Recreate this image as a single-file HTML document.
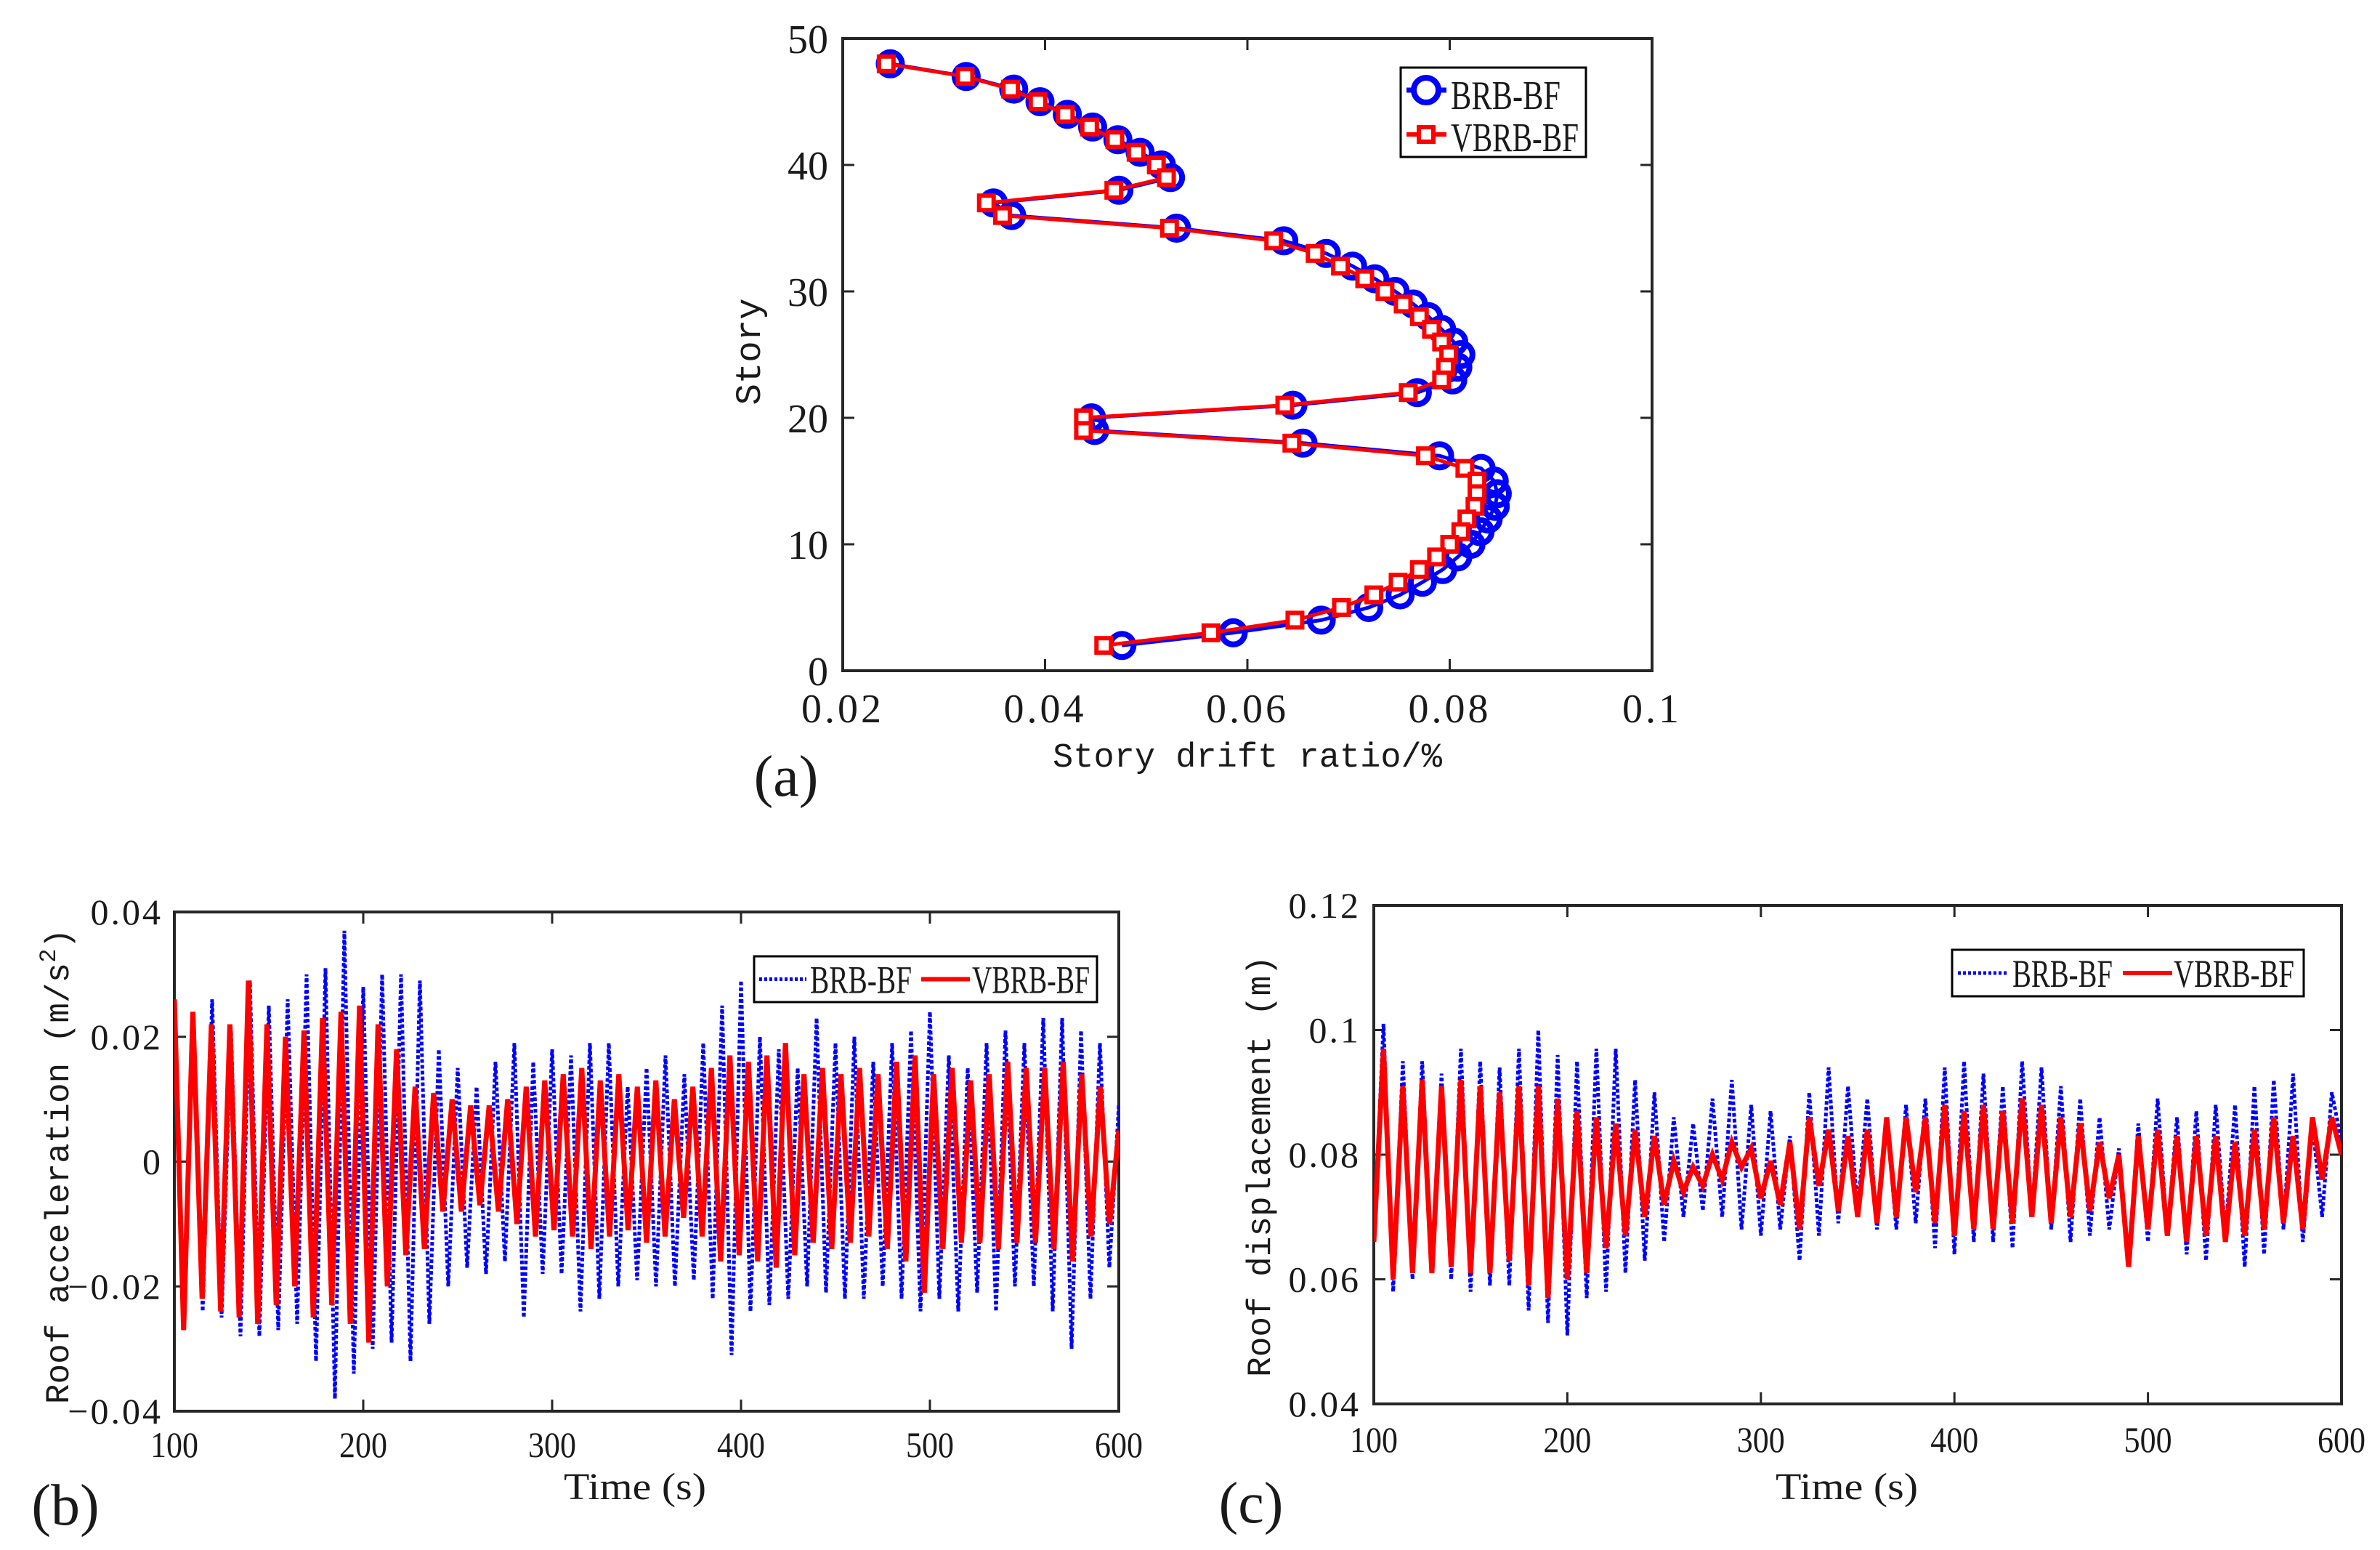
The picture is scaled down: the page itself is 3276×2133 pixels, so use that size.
<!DOCTYPE html>
<html><head><meta charset="utf-8">
<style>
html,body{margin:0;padding:0;background:#fff;}
svg{display:block;}
text{font-family:"Liberation Serif","Noto Serif CJK SC",serif;fill:#1a1a1a;}
.mono{font-family:"Liberation Mono",monospace;}
</style></head>
<body>
<svg id="fig" width="3276" height="2133" viewBox="0 0 3276 2133" xmlns="http://www.w3.org/2000/svg">
<rect width="3276" height="2133" fill="#fff"/>
<g id="pa"></g>
<g id="pb"></g>
<g id="pc"></g>
</svg>
<script>
// ---- Chart (a) data ----
const stories = [48,47,46,45,44,43,42,41,40,39,38,37,36,35,34,33,32,31,30,29,28,27,26,25,24,23,22,21,20,19,18,17,16,15,14,13,12,11,10,9,8,7,6,5,4,3,2];
const driftBRB = [0.0247,0.0322,0.0369,0.0395,0.0422,0.0447,0.0472,0.0494,0.0515,0.0524,0.0473,0.0349,0.0367,0.0530,0.0636,0.0678,0.0704,0.0726,0.0746,0.0764,0.0779,0.0792,0.0804,0.0811,0.0808,0.0803,0.0768,0.0645,0.0446,0.0449,0.0655,0.0790,0.0831,0.0844,0.0847,0.0845,0.0838,0.0830,0.0821,0.0808,0.0793,0.0773,0.0751,0.0720,0.0673,0.0586,0.0476];
const driftVBRB = [0.0243,0.0321,0.0366,0.0393,0.0420,0.0444,0.0469,0.0490,0.0510,0.0520,0.0468,0.0342,0.0358,0.0523,0.0626,0.0667,0.0692,0.0716,0.0736,0.0754,0.0770,0.0782,0.0792,0.0799,0.0796,0.0792,0.0759,0.0637,0.0438,0.0438,0.0644,0.0776,0.0815,0.0827,0.0827,0.0825,0.0817,0.0811,0.0800,0.0787,0.0770,0.0749,0.0725,0.0693,0.0647,0.0564,0.0458];
const aXTicks = [0.02,0.04,0.06,0.08,0.1];
const aXTickLabels = ["0.02","0.04","0.06","0.08","0.1"];
const aYTicks = [0,10,20,30,40,50];
const aYTickLabels = ["0","10","20","30","40","50"];
// ---- Chart (b) data: alternating extrema, t = 100..600 ----
const accBRB = [0.022,-0.027,0.023,-0.024,0.026,-0.025,0.021,-0.028,0.029,-0.028,0.025,-0.027,0.026,-0.026,0.030,-0.032,0.031,-0.038,0.037,-0.034,0.028,-0.030,0.030,-0.029,0.030,-0.032,0.029,-0.026,0.018,-0.020,0.015,-0.017,0.012,-0.018,0.016,-0.016,0.019,-0.025,0.016,-0.018,0.018,-0.018,0.017,-0.024,0.019,-0.022,0.019,-0.020,0.012,-0.019,0.015,-0.020,0.017,-0.020,0.014,-0.019,0.019,-0.022,0.025,-0.031,0.029,-0.024,0.020,-0.023,0.018,-0.022,0.015,-0.020,0.023,-0.021,0.019,-0.022,0.020,-0.022,0.016,-0.020,0.019,-0.022,0.021,-0.024,0.024,-0.022,0.017,-0.024,0.015,-0.021,0.019,-0.024,0.021,-0.020,0.019,-0.020,0.023,-0.024,0.023,-0.030,0.021,-0.022,0.019,-0.017,0.009];
const accVBRB = [0.026,-0.027,0.024,-0.022,0.022,-0.024,0.022,-0.025,0.029,-0.026,0.022,-0.023,0.020,-0.020,0.021,-0.025,0.023,-0.023,0.024,-0.026,0.025,-0.029,0.022,-0.020,0.018,-0.015,0.012,-0.014,0.011,-0.008,0.010,-0.008,0.009,-0.007,0.009,-0.008,0.010,-0.010,0.012,-0.012,0.013,-0.011,0.014,-0.012,0.015,-0.014,0.013,-0.012,0.014,-0.011,0.012,-0.013,0.013,-0.012,0.010,-0.009,0.012,-0.012,0.015,-0.016,0.017,-0.015,0.016,-0.016,0.017,-0.017,0.019,-0.015,0.014,-0.013,0.015,-0.014,0.014,-0.013,0.015,-0.012,0.014,-0.014,0.016,-0.016,0.017,-0.021,0.014,-0.014,0.015,-0.013,0.013,-0.013,0.014,-0.014,0.016,-0.013,0.015,-0.013,0.015,-0.014,0.016,-0.016,0.014,-0.012,0.012,-0.010,0.005];
const bYTicks = [-0.04,-0.02,0,0.02,0.04];
const bYTickLabels = ["\u22120.04","\u22120.02","0","0.02","0.04"];
const timeTicks = [100,200,300,400,500,600];
const timeTickLabels = ["100","200","300","400","500","600"];
// ---- Chart (c) data ----
const dispBRB = [0.066,0.101,0.058,0.095,0.060,0.095,0.061,0.093,0.060,0.097,0.058,0.095,0.059,0.094,0.059,0.097,0.055,0.100,0.053,0.096,0.051,0.095,0.057,0.097,0.058,0.097,0.061,0.092,0.063,0.090,0.066,0.086,0.070,0.085,0.071,0.089,0.070,0.092,0.068,0.088,0.067,0.087,0.068,0.083,0.063,0.090,0.067,0.094,0.069,0.091,0.071,0.089,0.068,0.086,0.068,0.088,0.069,0.089,0.065,0.094,0.064,0.095,0.066,0.093,0.066,0.091,0.065,0.095,0.070,0.094,0.068,0.091,0.066,0.089,0.067,0.086,0.068,0.081,0.062,0.085,0.066,0.089,0.067,0.086,0.064,0.087,0.063,0.088,0.067,0.088,0.062,0.091,0.064,0.092,0.068,0.093,0.066,0.085,0.070,0.090,0.082];
const dispVBRB = [0.066,0.097,0.060,0.091,0.061,0.092,0.061,0.091,0.062,0.092,0.061,0.091,0.061,0.090,0.063,0.091,0.059,0.091,0.057,0.089,0.060,0.087,0.061,0.086,0.065,0.085,0.067,0.084,0.070,0.083,0.072,0.079,0.074,0.078,0.075,0.080,0.076,0.082,0.078,0.081,0.073,0.079,0.072,0.082,0.068,0.086,0.075,0.084,0.071,0.083,0.070,0.084,0.069,0.086,0.070,0.086,0.074,0.086,0.069,0.088,0.067,0.087,0.068,0.088,0.068,0.087,0.069,0.089,0.070,0.088,0.069,0.086,0.070,0.085,0.071,0.082,0.073,0.080,0.062,0.083,0.068,0.084,0.067,0.083,0.066,0.083,0.067,0.083,0.066,0.082,0.067,0.084,0.068,0.086,0.069,0.083,0.068,0.086,0.076,0.086,0.080];
const cYTicks = [0.04,0.06,0.08,0.1,0.12];
const cYTickLabels = ["0.04","0.06","0.08","0.1","0.12"];

const NS = "http://www.w3.org/2000/svg";
function mk(parent, tag, attrs){
  const e = document.createElementNS(NS, tag);
  for (const k in attrs) e.setAttribute(k, attrs[k]);
  parent.appendChild(e);
  return e;
}
function txt(parent, str, x, y, size, anchor, name, extra){
  const t = mk(parent, 'text', Object.assign({x:x, y:y, 'font-size':size, 'text-anchor':anchor||'start'}, extra||{}));
  t.textContent = str;
  
  
  return t;
}
function linScale(d0,d1,r0,r1){ return v => r0 + (v-d0)/(d1-d0)*(r1-r0); }

function frame(g, L, T, R, B, xs, ys, xt, yt, name){
  const fr = mk(g,'rect',{x:L,y:T,width:R-L,height:B-T,fill:'none',stroke:'#262626','stroke-width':4});
  
  
  xt.forEach(v=>{ const x=xs(v);
    mk(g,'line',{x1:x,y1:B,x2:x,y2:B-16,stroke:'#262626','stroke-width':3});
    mk(g,'line',{x1:x,y1:T,x2:x,y2:T+16,stroke:'#262626','stroke-width':3}); });
  yt.forEach(v=>{ const y=ys(v);
    mk(g,'line',{x1:L,y1:y,x2:L+16,y2:y,stroke:'#262626','stroke-width':3});
    mk(g,'line',{x1:R,y1:y,x2:R-16,y2:y,stroke:'#262626','stroke-width':3}); });
}

// ===== Chart (a) =====
(function(){
  const g = document.getElementById('pa');
  const L=1160,R=2274,T=53,B=923;
  const xs = linScale(0.02,0.1,L,R), ys = linScale(0,50,B,T);
  frame(g,L,T,R,B,xs,ys,aXTicks,aYTicks,'drift');
  aXTicks.forEach((v,i)=>{ txt(g,aXTickLabels[i],xs(v),994,56,'middle','x-tick-label',{'letter-spacing':4}); });
  aYTicks.forEach((v,i)=>{ txt(g,aYTickLabels[i],1140,ys(v)+20,56,'end','y-tick-label'); });
  txt(g,'Story drift ratio/%',1717,1055,47,'middle','x-axis-title',{'class':'mono'});
  txt(g,'Story',0,0,49,'middle','y-axis-title',{'class':'mono',transform:'translate(1046,484) rotate(-90)'});
  txt(g,'(a)',1082,1095,80,'middle','panel-label-a');
  const pB = driftBRB.map((v,i)=>xs(v)+','+ys(stories[i])).join(' ');
  const lb = mk(g,'polyline',{points:pB,fill:'none',stroke:'#0000ff','stroke-width':5});
  
  
  driftBRB.forEach((v,i)=>{
    const c = mk(g,'circle',{cx:xs(v),cy:ys(stories[i]),r:16,fill:'none',stroke:'#0000ff','stroke-width':8});
    
    
  });
  const pV = driftVBRB.map((v,i)=>xs(v)+','+ys(stories[i])).join(' ');
  const lv = mk(g,'polyline',{points:pV,fill:'none',stroke:'#ff0000','stroke-width':5});
  
  
  driftVBRB.forEach((v,i)=>{
    const s = mk(g,'rect',{x:xs(v)-10,y:ys(stories[i])-10,width:20,height:20,fill:'#fff',stroke:'#ff0000','stroke-width':6});
    
    
  });
  const lg = mk(g,'g',{});
  
  
  mk(lg,'rect',{x:1928,y:93,width:255,height:123,fill:'#fff',stroke:'#000','stroke-width':3});
  mk(lg,'line',{x1:1936,y1:124,x2:1991,y2:124,stroke:'#0000ff','stroke-width':7});
  mk(lg,'circle',{cx:1963,cy:124,r:17,fill:'#fff',stroke:'#0000ff','stroke-width':8});
  txt(lg,'BRB-BF',1997,150,56,'start','legend-entry-brb-bf',{textLength:151,lengthAdjust:'spacingAndGlyphs'});
  mk(lg,'line',{x1:1936,y1:185,x2:1991,y2:185,stroke:'#ff0000','stroke-width':6});
  mk(lg,'rect',{x:1953,y:175,width:20,height:20,fill:'#fff',stroke:'#ff0000','stroke-width':6});
  txt(lg,'VBRB-BF',1997,208,56,'start','legend-entry-vbrb-bf',{textLength:176,lengthAdjust:'spacingAndGlyphs'});
})();

function timeChart(g, L,R,T,B, y0,y1, yt, ytl, s1, s2, name, ytitle, tlabel, legendBox, tickX, tlX, tlBase, ytitleX){
  const xs = linScale(100,600,L,R), ys = linScale(y0,y1,B,T);
  const cp = mk(g,'clipPath',{id:'clip-'+name});
  mk(cp,'rect',{x:L,y:T,width:R-L,height:B-T});
  frame(g,L,T,R,B,xs,ys,timeTicks,yt,name);
  const tOf = (i,n)=>100+i*500/(n-1);
  const p1 = s1.map((v,i)=>xs(tOf(i,s1.length))+','+ys(v)).join(' ');
  const l1 = mk(g,'polyline',{points:p1,fill:'none',stroke:'#0000ff','stroke-width':5,'stroke-dasharray':'5 3','clip-path':'url(#clip-'+name+')'});
  
  
  const p2 = s2.map((v,i)=>xs(tOf(i,s2.length))+','+ys(v)).join(' ');
  const l2 = mk(g,'polyline',{points:p2,fill:'none',stroke:'#ff0000','stroke-width':7,'clip-path':'url(#clip-'+name+')'});
  
  
  timeTicks.forEach((v,i)=>{ txt(g,timeTickLabels[i],xs(v),tlBase,50,'middle','x-tick-label',{textLength:66,lengthAdjust:'spacingAndGlyphs'}); });
  yt.forEach((v,i)=>{ txt(g,ytl[i],tickX,ys(v)+17,50,'end','y-tick-label',{'letter-spacing':3}); });
  txt(g,'Time (s)',tlX,2063,52,'middle','x-axis-title',{textLength:196,lengthAdjust:'spacingAndGlyphs'});
  const yt2 = txt(g,'',0,0,46,'middle','y-axis-title',{'class':'mono',transform:'translate('+ytitleX+',1605) rotate(-90)'});
  ytitle(yt2);
  tlabel();
  const [bx0,by0,bx1,by1,lx0,lx1,t1,t1w,rx0,rx1,t2,t2w] = legendBox;
  const lg = mk(g,'g',{});
  
  
  mk(lg,'rect',{x:bx0,y:by0,width:bx1-bx0,height:by1-by0,fill:'#fff',stroke:'#000','stroke-width':3});
  const cy=(by0+by1)/2;
  mk(lg,'line',{x1:lx0,y1:cy,x2:lx1,y2:cy,stroke:'#0000ff','stroke-width':5,'stroke-dasharray':'4 3'});
  txt(lg,'BRB-BF',t1,cy+19,54,'start','legend-entry-brb-bf',{textLength:t1w,lengthAdjust:'spacingAndGlyphs'});
  mk(lg,'line',{x1:rx0,y1:cy,x2:rx1,y2:cy,stroke:'#ff0000','stroke-width':6});
  txt(lg,'VBRB-BF',t2,cy+19,54,'start','legend-entry-vbrb-bf',{textLength:t2w,lengthAdjust:'spacingAndGlyphs'});
}

// ===== Chart (b) =====
(function(){
  const g = document.getElementById('pb');
  timeChart(g,240,1540,1255,1942,-0.04,0.04,bYTicks,bYTickLabels,accBRB,accVBRB,'acc',
    t=>{ t.textContent='Roof acceleration (m/s'; const s=document.createElementNS(NS,'tspan'); s.setAttribute('baseline-shift','super'); s.setAttribute('font-size','32'); s.textContent='2'; t.appendChild(s); const e=document.createElementNS(NS,'tspan'); e.textContent=')'; t.appendChild(e); },
    ()=>{ txt(g,'(b)',90,2098,80,'middle','panel-label-b'); },
    [1038,1316,1510,1379,1045,1110,1115,140,1268,1335,1338,162],224,874,2005,94);
})();

// ===== Chart (c) =====
(function(){
  const g = document.getElementById('pc');
  timeChart(g,1891,3223,1246,1932,0.04,0.12,cYTicks,cYTickLabels,dispBRB,dispVBRB,'disp',
    t=>{ t.textContent='Roof displacement (m)'; },
    ()=>{ txt(g,'(c)',1722,2095,80,'middle','panel-label-c'); },
    [2687,1307,3171,1371,2695,2765,2770,138,2922,2990,2992,166],1873,2542,1998,1748);
})();
</script>
</body></html>
